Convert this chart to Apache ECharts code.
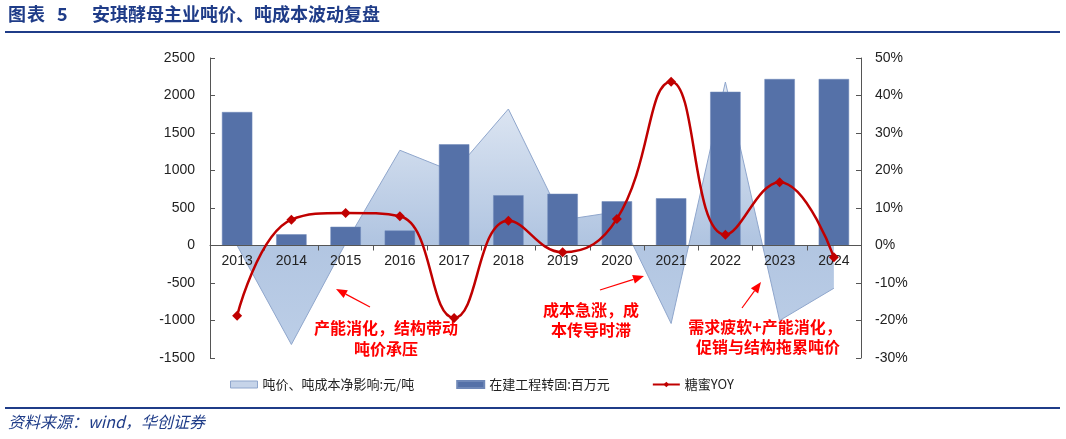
<!DOCTYPE html>
<html>
<head>
<meta charset="utf-8">
<title>安琪酵母主业吨价、吨成本波动复盘</title>
<script src="https://cdn.jsdelivr.net/npm/echarts@6.0.0/dist/echarts.min.js"></script>
<style>
    html, body { margin: 0; padding: 0; background: #fff; }
    #chart { width: 1066px; height: 439px; }
</style>
</head>
<body>
<div id="chart"></div>
<script>
// 数据
var years = ['2013', '2014', '2015', '2016', '2017', '2018', '2019', '2020', '2021', '2022', '2023', '2024'];
var netImpact = [0, -1320, 30, 1270, 980, 1820, 340, 450, -1040, 2180, -1000, -570];   // 吨价、吨成本净影响:元/吨
var cipTransfer = [1780, 150, 250, 200, 1350, 670, 690, 590, 630, 2050, 2220, 2220];  // 在建工程转固:百万元
var molassesYoy = [-18.7, 6.9, 8.7, 7.8, -19.3, 6.6, -1.8, 7.1, 43.7, 2.9, 16.9, -3.1]; // 糖蜜YOY, %
var leftTicks = { min: -1500, max: 2500, interval: 500 };
var rightTicks = { min: -30, max: 50, interval: 10 };

var navy = '#1f3c88';
var red = '#ff0000';

// 绘图区
var plotTop = 58, plotBottom = 81, plotH = 439 - plotTop - plotBottom;
// 0 值所在高度, 类目轴放在这里
var zeroFromBottom = plotBottom + plotH * (0 - leftTicks.min) / (leftTicks.max - leftTicks.min);

// 箭头: 线段 + 三角
function arrow(x1, y1, x2, y2) {
    var a = Math.atan2(y2 - y1, x2 - x1);
    var len = 11, w = 4.5;
    var bx = x2 - len * Math.cos(a), by = y2 - len * Math.sin(a);
    var px = -Math.sin(a) * w, py = Math.cos(a) * w;
    return [{
        type: 'line',
        shape: { x1: x1, y1: y1, x2: bx, y2: by },
        style: { stroke: red, lineWidth: 1.2 }
    }, {
        type: 'polygon',
        shape: { points: [[x2, y2], [bx + px, by + py], [bx - px, by - py]] },
        style: { fill: red }
    }];
}

function note(x, y, text) {
    return {
        type: 'text', x: x, y: y,
        style: {
            text: text, fill: red, font: 'bold 16px "Noto Sans CJK SC"',
            align: 'center', verticalAlign: 'middle'
        }
    };
}

function head(x, text) {
    return {
        type: 'text', left: x, top: 5,
        style: { text: text, fill: navy, font: 'bold 18px "Noto Sans CJK SC"' }
    };
}

var graphics = [
    head(8, '图'), head(27, '表'), head(57, '5'),
    head(92, '安琪酵母主业吨价、吨成本波动复盘'),
    { type: 'rect', shape: { x: 5, y: 31, width: 1055, height: 2 }, style: { fill: navy } },
    { type: 'rect', shape: { x: 5, y: 407, width: 1055, height: 2 }, style: { fill: navy } },
    {
        type: 'text', left: 8, top: 414,
        style: { text: '资料来源：wind，华创证券', fill: navy, font: 'italic 16px "Noto Sans CJK SC"' }
    },
    note(386, 328, '产能消化，结构带动'),
    note(386, 349, '吨价承压'),
    note(591, 310, '成本急涨，成'),
    note(591, 330, '本传导时滞'),
    note(765, 327, '需求疲软+产能消化，'),
    note(768, 347, '促销与结构拖累吨价')
].concat(arrow(370, 307, 336, 289), arrow(600, 290, 644, 276), arrow(742, 308, 761, 282));

var chart = echarts.init(document.getElementById('chart'));

var axisGrey = '#555';

var option = {
    animation: false,
    textStyle: { fontFamily: 'Liberation Sans, Arial, sans-serif' },
    grid: [
        { left: 210, right: 205, top: plotTop, bottom: plotBottom },
        // 只用来在 0 值处画类目轴
        { left: 210, right: 205, top: plotTop, bottom: zeroFromBottom }
    ],
    legend: {
        left: 225, top: 373,
        itemGap: 42, itemWidth: 27, itemHeight: 7,
        textStyle: { fontSize: 13, color: '#222', fontFamily: '"Noto Sans CJK SC"' },
        data: [
            { name: '吨价、吨成本净影响:元/吨', icon: 'rect',
              itemStyle: { color: '#c6d4e9', borderColor: '#8fa6cc', borderWidth: 1 } },
            { name: '在建工程转固:百万元', icon: 'rect' },
            { name: '糖蜜YOY' }
        ]
    },
    xAxis: [{
        type: 'category',
        gridIndex: 0,
        data: years,
        axisLine: { show: false, onZero: false },
        axisTick: { show: false },
        axisLabel: { show: false },
        splitLine: { show: false }
    }, {
        type: 'category',
        gridIndex: 1,
        data: years,
        z: 10,
        axisLine: { onZero: false, lineStyle: { color: axisGrey, width: 1 } },
        axisTick: { show: true, alignWithLabel: false, length: 5, lineStyle: { color: axisGrey } },
        axisLabel: { color: '#222', fontSize: 14, margin: 9 },
        splitLine: { show: false }
    }],
    yAxis: [{
        type: 'value',
        gridIndex: 0,
        min: leftTicks.min, max: leftTicks.max, interval: leftTicks.interval,
        axisLine: { show: true, lineStyle: { color: axisGrey } },
        axisTick: { show: true, inside: true, length: 5, lineStyle: { color: axisGrey } },
        axisLabel: { color: '#222', fontSize: 14, margin: 15, formatter: function (v) { return String(v); } },
        splitLine: { show: false }
    }, {
        type: 'value',
        gridIndex: 0,
        min: rightTicks.min, max: rightTicks.max, interval: rightTicks.interval,
        axisLine: { show: true, lineStyle: { color: axisGrey } },
        axisTick: { show: true, inside: true, length: 5, lineStyle: { color: axisGrey } },
        axisLabel: { color: '#222', fontSize: 14, margin: 14, formatter: '{value}%' },
        splitLine: { show: false }
    }, {
        type: 'value',
        gridIndex: 1,
        show: false
    }],
    series: [{
        name: '吨价、吨成本净影响:元/吨',
        type: 'line',
        data: netImpact,
        symbol: 'none',
        lineStyle: { color: '#8fa6cc', width: 1 },
        itemStyle: { color: '#b3c6e2' },
        areaStyle: {
            opacity: 1,
            color: new echarts.graphic.LinearGradient(0, 0, 0, 1, [
                { offset: 0, color: '#e4ebf5' },
                { offset: 0.6, color: '#b1c5e1' },
                { offset: 1, color: '#bccee7' }
            ])
        },
        z: 1
    }, {
        name: '在建工程转固:百万元',
        type: 'bar',
        data: cipTransfer,
        barCategoryGap: '44%',
        itemStyle: { color: '#5571a8', borderColor: '#6f88b8', borderWidth: 0.5 },
        z: 2
    }, {
        name: '糖蜜YOY',
        type: 'line',
        yAxisIndex: 1,
        data: molassesYoy,
        smooth: 0.45,
        symbol: 'diamond',
        symbolSize: 10,
        lineStyle: { color: '#c00000', width: 2.5 },
        itemStyle: { color: '#c00000' },
        z: 11
    }],
    graphic: graphics
};

chart.setOption(option);
</script>
</body>
</html>
